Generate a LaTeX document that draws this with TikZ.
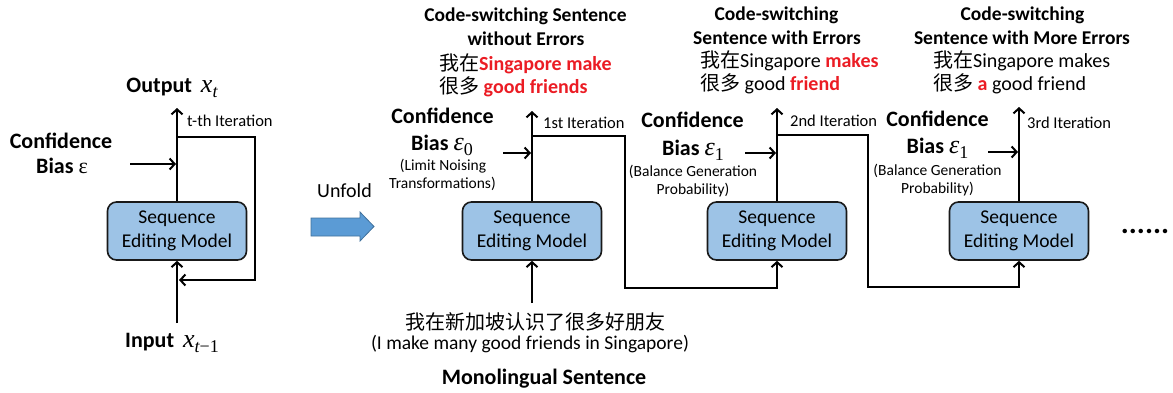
\documentclass[tikz,border=0pt]{standalone}
\usepackage{fontspec}
\setmainfont{Carlito}
\newfontfamily\cjk{Noto Sans CJK SC}
\newfontfamily\mvar{Liberation Serif}
\usetikzlibrary{arrows.meta}
\definecolor{boxblue}{RGB}{157,195,230}
\definecolor{errred}{RGB}{235,28,36}
\definecolor{unfoldblue}{RGB}{91,155,213}
\definecolor{unfoldedge}{RGB}{65,113,156}
\newcommand\fs[1]{\fontsize{#1}{#1}\selectfont}
\newcommand\err[1]{{\bfseries\color{errred}#1}}
% variables set as italic serif with lowered subscripts
\newcommand\mv[1]{{\mvar\mdseries\itshape\fs{26}#1}}
\newcommand\msub[1]{{\fs{18}\raisebox{-5pt}{#1}}}

\begin{document}
\begin{tikzpicture}[x=1pt,y=-1pt,
  txt/.style={inner sep=0pt, anchor=base, font=\fs{19.5}},
  head/.style={txt, font=\fs{22}\bfseries},
  title/.style={txt, font=\fs{19.5}\bfseries},
  note/.style={txt, font=\fs{15.5}},
  iter/.style={inner sep=0pt, anchor=base west, font=\fs{16.5}},
  sent/.style={inner sep=0pt, anchor=base west, font=\fs{20}},
  model/.style={draw=black!90, line width=1.6pt, rounded corners=9pt, fill=boxblue,
    minimum width=139pt, minimum height=58pt, inner sep=0pt, align=center,
    font=\fontsize{19.5}{24}\selectfont},
  wire/.style={draw=black, line width=2pt},
  arr/.style={wire, -{Straight Barb[length=5pt,width=11pt]}}
]
\useasboundingbox (0,0) rectangle (1173,392);

% ---------- folded view ----------
\node[model] (box0) at (177,231) {Sequence\\Editing Model};
\node[head] (out0) at (172,92) {Output\hspace{4pt} \mv{x\msub{t}}};
\node[head] (in0) at (172,347) {Input\hspace{4pt} \mv{x\msub{t\upshape −1}}};
\node[iter] (it0) at (187,126) {t-th Iteration};
\node[head] (conf0) at (61,148) {Confidence};
\node[head] (bias0) at (62,173) {Bias {\mvar\mdseries ε}};

\coordinate (top0) at (177,108);
\coordinate (tap0) at (177,137);
\coordinate (c0) at (255,280);
\coordinate (ret0) at (179,280);
\coordinate (src0) at (177,323);
\coordinate (b0s) at (130,164);
\coordinate (b0e) at (176,164);

\draw[arr] (box0.north) -- (top0);
\draw[arr] (tap0) -| (c0) -- (ret0);
\draw[arr] (src0) -- (box0.south);
\draw[arr] (b0s) -- (b0e);

% ---------- unfold arrow ----------
\node[txt, font=\fs{20}] (unfold) at (344.5,197) {Unfold};
\fill[unfoldblue, draw=unfoldedge, line width=0.8pt]
  (311,218) -- (360,218) -- (360,212) -- (374,226.5) -- (360,241) -- (360,236) -- (311,236) -- cycle;

% ---------- unfolded view ----------
\node[model] (box1) at (532,231) {Sequence\\Editing Model};
\node[model] (box2) at (777,231) {Sequence\\Editing Model};
\node[model] (box3) at (1019,231) {Sequence\\Editing Model};
\node[txt, font=\fs{30}\bfseries] (dots) at (1145,233) {......};

% iteration 1
\node[title] (t1a) at (525.5,21) {Code-switching Sentence};
\node[title] (t1b) at (526,45) {without Errors};
\node[sent] (s1a) at (439,70) {{\cjk 我在}\err{Singapore make}};
\node[sent] (s1b) at (439,93) {{\cjk 很多} \err{good friends}};
\node[iter] (it1) at (543,128) {1st Iteration};
\node[head] (conf1) at (442.5,123) {Confidence};
\node[head] (bias1) at (442,150) {Bias \mv{ε\msub{\upshape 0}}};
\node[note] (n1a) at (443,170) {(Limit Noising};
\node[note] (n1b) at (442.5,188) {Transformations)};

% iteration 2
\node[title] (t2a) at (776.5,20) {Code-switching};
\node[title] (t2b) at (777,44) {Sentence with Errors};
\node[sent] (s2a) at (700,67) {{\cjk 我在}Singapore \err{makes}};
\node[sent] (s2b) at (700,90) {{\cjk 很多} good \err{friend}};
\node[iter] (it2) at (790,126) {2nd Iteration};
\node[head] (conf2) at (692.5,127) {Confidence};
\node[head] (bias2) at (693,155) {Bias \mv{ε\msub{\upshape 1}}};
\node[note] (n2a) at (693,176) {(Balance Generation};
\node[note] (n2b) at (693,194) {Probability)};

% iteration 3
\node[title] (t3a) at (1022.5,20) {Code-switching};
\node[title] (t3b) at (1022,44) {Sentence with More Errors};
\node[sent] (s3a) at (933,67) {{\cjk 我在}Singapore makes};
\node[sent] (s3b) at (933,90) {{\cjk 很多} \err{a} good friend};
\node[iter] (it3) at (1027,128) {3rd Iteration};
\node[head] (conf3) at (937.5,126) {Confidence};
\node[head] (bias3) at (937.5,153) {Bias \mv{ε\msub{\upshape 1}}};
\node[note] (n3a) at (937.5,175) {(Balance Generation};
\node[note] (n3b) at (937.5,193) {Probability)};

% monolingual input
\node[txt, font=\fs{20}\cjk] (mono) at (535,329) {我在新加坡认识了很多好朋友};
\node[txt] (gloss) at (530,349) {(I make many good friends in Singapore)};
\node[head] (monolbl) at (544,384) {Monolingual Sentence};

% wiring
\coordinate (top1) at (532,111);
\coordinate (top2) at (777,108);
\coordinate (top3) at (1019,107);
\coordinate (tap1) at (532,136);
\coordinate (tap2) at (777,135);
\coordinate (d1) at (625,288);
\coordinate (d2) at (868,287);
\coordinate (src1) at (532,303);

\draw[arr] (box1.north) -- (top1);
\draw[arr] (box2.north) -- (top2);
\draw[arr] (box3.north) -- (top3);
\draw[arr] (tap1) -| (d1) -| (box2.south);
\draw[arr] (tap2) -| (d2) -| (box3.south);
\draw[arr] (src1) -- (box1.south);

\coordinate (b1s) at (503,153);
\coordinate (b1e) at (531,153);
\coordinate (b2s) at (745,153);
\coordinate (b2e) at (776,153);
\coordinate (b3s) at (988,152);
\coordinate (b3e) at (1018,152);
\draw[arr] (b1s) -- (b1e);
\draw[arr] (b2s) -- (b2e);
\draw[arr] (b3s) -- (b3e);
\end{tikzpicture}
\end{document}
